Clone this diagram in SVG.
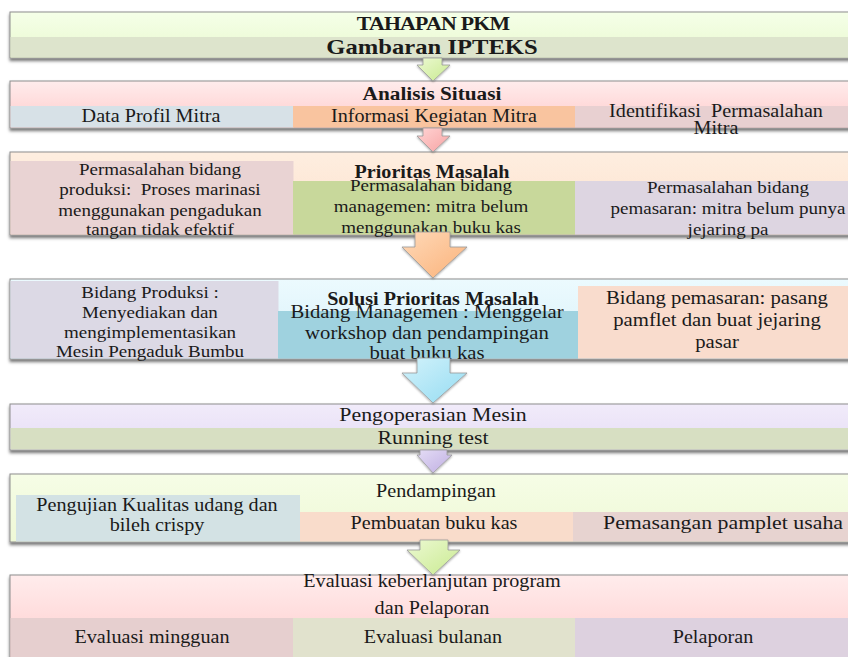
<svg xmlns="http://www.w3.org/2000/svg" width="848" height="657" viewBox="0 0 848 657">
<defs>
<style>
.t{font-family:'Liberation Serif','Times New Roman',serif;font-size:18px;fill:#1a1a1a;text-anchor:middle}
.s{font-size:17px}
.l{font-size:18.5px}
.m{font-size:19.5px}
.b{font-weight:bold}
.box{stroke:#8e8e8e;stroke-width:1;filter:url(#sh)}
.arr{stroke:#9a9a9a;stroke-width:0.8;filter:url(#ash)}
</style>
<filter id="sh" x="-5%" y="-20%" width="110%" height="150%"><feDropShadow dx="0" dy="2.5" stdDeviation="1.5" flood-color="#000" flood-opacity="0.55"/></filter>
<filter id="ash" x="-30%" y="-20%" width="160%" height="150%"><feDropShadow dx="0" dy="1" stdDeviation="1" flood-color="#000" flood-opacity="0.35"/></filter>
<linearGradient id="g1" x1="0" y1="0" x2="0" y2="1"><stop offset="0" stop-color="#f5ffe8"/><stop offset="1" stop-color="#e9f9cf"/></linearGradient>
<linearGradient id="g2" x1="0" y1="0" x2="0" y2="1"><stop offset="0" stop-color="#ffecec"/><stop offset="1" stop-color="#ffcaca"/></linearGradient>
<linearGradient id="g3" x1="0" y1="0" x2="0" y2="1"><stop offset="0" stop-color="#feeee0"/><stop offset="1" stop-color="#fde0cb"/></linearGradient>
<linearGradient id="g4" x1="0" y1="0" x2="0" y2="1"><stop offset="0" stop-color="#ecfafe"/><stop offset="1" stop-color="#d8f1f9"/></linearGradient>
<linearGradient id="g5" x1="0" y1="0" x2="0" y2="1"><stop offset="0" stop-color="#f1ebfa"/><stop offset="1" stop-color="#e6ddf5"/></linearGradient>
<linearGradient id="g6" x1="0" y1="0" x2="0" y2="1"><stop offset="0" stop-color="#f6fde6"/><stop offset="1" stop-color="#eef8d6"/></linearGradient>
<linearGradient id="aG" x1="0" y1="0" x2="1" y2="1"><stop offset="0" stop-color="#ecf9d2"/><stop offset="1" stop-color="#c9ea90"/></linearGradient>
<linearGradient id="aP" x1="0" y1="0" x2="1" y2="1"><stop offset="0" stop-color="#ffd4d4"/><stop offset="1" stop-color="#f7a3a3"/></linearGradient>
<linearGradient id="aO" x1="0" y1="0" x2="1" y2="1"><stop offset="0" stop-color="#fed9b8"/><stop offset="1" stop-color="#fbb27a"/></linearGradient>
<linearGradient id="aC" x1="0" y1="0" x2="1" y2="1"><stop offset="0" stop-color="#d2f2fb"/><stop offset="1" stop-color="#95dcf2"/></linearGradient>
<linearGradient id="aL" x1="0" y1="0" x2="1" y2="1"><stop offset="0" stop-color="#e4dcf5"/><stop offset="1" stop-color="#bfaee2"/></linearGradient>
</defs>
<rect width="848" height="657" fill="#fff"/>

<g id="node1">
<rect class="box" x="10" y="12" width="850" height="46" fill="url(#g1)"/>
<rect x="10.5" y="37" width="840" height="20.5" fill="#dde4cc"/>
<text class="t b" style="font-size:19.5px;letter-spacing:-0.7px" transform="translate(433 29.5) scale(1.12 1)">TAHAPAN PKM</text>
<text class="t b" style="font-size:22px" transform="translate(432 54) scale(1.12 1)">Gambaran IPTEKS</text>
</g>

<g id="node2">
<rect class="box" x="10" y="81" width="850" height="47" fill="url(#g2)"/>
<rect x="10.5" y="106" width="283" height="21.5" fill="#d7e1e7"/>
<rect x="293" y="106" width="282" height="21.5" fill="#f9c49f"/>
<rect x="575" y="106" width="275" height="21.5" fill="#e8d0d1"/>
<text class="t b" style="font-size:19px" transform="translate(432 100) scale(1.12 1)">Analisis Situasi</text>
<text class="t" transform="translate(151 122) scale(1.12 1)">Data Profil Mitra</text>
<text class="t" transform="translate(434 122) scale(1.12 1)">Informasi Kegiatan Mitra</text>
<text class="t" transform="translate(716 117) scale(1.12 1)"><tspan x="0" style="white-space:pre">Identifikasi  Permasalahan</tspan><tspan x="0" dy="17">Mitra</tspan></text>
</g>

<g id="node3">
<rect class="box" x="10" y="152" width="850" height="83" fill="url(#g3)"/>
<rect x="10.5" y="161" width="283" height="73.5" fill="#e9d3d3"/>
<rect x="293" y="181" width="282" height="53.5" fill="#c8d89b"/>
<rect x="575" y="181" width="275" height="53.5" fill="#ddd5e1"/>
<text class="t b" transform="translate(432 178) scale(1.12 1)">Prioritas Masalah</text>
<text class="t s" transform="translate(160 175) scale(1.12 1)"><tspan x="0">Permasalahan bidang</tspan><tspan x="0" dy="20.5" style="white-space:pre">produksi:  Proses marinasi</tspan><tspan x="0" dy="20.5">menggunakan pengadukan</tspan><tspan x="0" dy="19.5">tangan tidak efektif</tspan></text>
<text class="t s" transform="translate(431 191) scale(1.12 1)"><tspan x="0">Permasalahan bidang</tspan><tspan x="0" dy="21">managemen: mitra belum</tspan><tspan x="0" dy="21">menggunakan buku kas</tspan></text>
<text class="t s" transform="translate(728 193) scale(1.12 1)"><tspan x="0">Permasalahan bidang</tspan><tspan x="0" dy="21">pemasaran: mitra belum punya</tspan><tspan x="0" dy="21">jejaring pa</tspan></text>
</g>

<g id="node4">
<rect class="box" x="10" y="279" width="850" height="80" fill="url(#g4)"/>
<rect x="10.5" y="281" width="268" height="77.5" fill="#dcd9e5"/>
<rect x="278" y="311" width="300" height="47.5" fill="#9fd2df"/>
<rect x="578" y="286" width="272" height="72.5" fill="#f9dccd"/>
<text class="t b" transform="translate(433 305) scale(1.12 1)">Solusi Prioritas Masalah</text>
<text class="t s" transform="translate(150 298) scale(1.12 1)"><tspan x="0">Bidang Produksi :</tspan><tspan x="0" dy="20">Menyediakan dan</tspan><tspan x="0" dy="20">mengimplementasikan</tspan><tspan x="0" dy="19.5">Mesin Pengaduk Bumbu</tspan></text>
<text class="t l" transform="translate(427 318) scale(1.12 1)"><tspan x="0">Bidang Managemen : Menggelar</tspan><tspan x="0" dy="21">workshop dan pendampingan</tspan><tspan x="0" dy="20.5">buat buku kas</tspan></text>
<text class="t l" transform="translate(717 304) scale(1.12 1)"><tspan x="0">Bidang pemasaran: pasang</tspan><tspan x="0" dy="22">pamflet dan buat jejaring</tspan><tspan x="0" dy="22">pasar</tspan></text>
</g>

<g id="node5">
<rect class="box" x="10" y="404" width="850" height="46" fill="url(#g5)"/>
<rect x="10.5" y="428" width="840" height="21.5" fill="#d7dfc2"/>
<text class="t m" transform="translate(433 421) scale(1.12 1)">Pengoperasian Mesin</text>
<text class="t m" transform="translate(433 444) scale(1.12 1)">Running test</text>
</g>

<g id="node6">
<rect class="box" x="10" y="474" width="850" height="68" fill="url(#g6)"/>
<rect x="16" y="495" width="284" height="46.5" fill="#d3e2e4"/>
<rect x="300" y="512" width="273" height="29.5" fill="#f9dccb"/>
<rect x="573" y="512" width="277" height="29.5" fill="#e7d3d0"/>
<text class="t" transform="translate(436 497) scale(1.12 1)">Pendampingan</text>
<text class="t" transform="translate(157 511) scale(1.12 1)"><tspan x="0">Pengujian Kualitas udang dan</tspan><tspan x="0" dy="20">bileh crispy</tspan></text>
<text class="t" transform="translate(434 529) scale(1.12 1)">Pembuatan buku kas</text>
<text class="t m" transform="translate(723 529) scale(1.12 1)">Pemasangan pamplet usaha</text>
</g>

<g id="node7">
<rect class="box" x="10" y="575" width="850" height="90" fill="url(#g2)"/>
<rect x="10.5" y="618" width="283" height="40" fill="#e6cfcf"/>
<rect x="293" y="618" width="282" height="40" fill="#e1e2cd"/>
<rect x="575" y="618" width="275" height="40" fill="#ddd1df"/>
<text class="t" transform="translate(432 587) scale(1.12 1)">Evaluasi keberlanjutan program</text>
<text class="t" transform="translate(432 614) scale(1.12 1)">dan Pelaporan</text>
<text class="t" transform="translate(152 643) scale(1.12 1)">Evaluasi mingguan</text>
<text class="t" transform="translate(433 643) scale(1.12 1)">Evaluasi bulanan</text>
<text class="t" transform="translate(713 643) scale(1.12 1)">Pelaporan</text>
</g>

<g id="connectors">
<path class="arr" fill="url(#aG)" d="M423 58H442V65H450L433 81L417 65H423Z"/>
<path class="arr" fill="url(#aP)" d="M423 128H442V136H450L433 152L417 136H423Z"/>
<path class="arr" fill="url(#aO)" d="M415 232H450V247H467L433 278L402 247H415Z"/>
<path class="arr" fill="url(#aC)" d="M417 358H450V373H467L433 403L402 373H417Z"/>
<path class="arr" fill="url(#aL)" d="M420 450H447V455H452L433 473L417 455H420Z"/>
<path class="arr" fill="url(#aG)" d="M420 540H448V550H460L433 575L407 550H420Z"/>
</g>
</svg>
